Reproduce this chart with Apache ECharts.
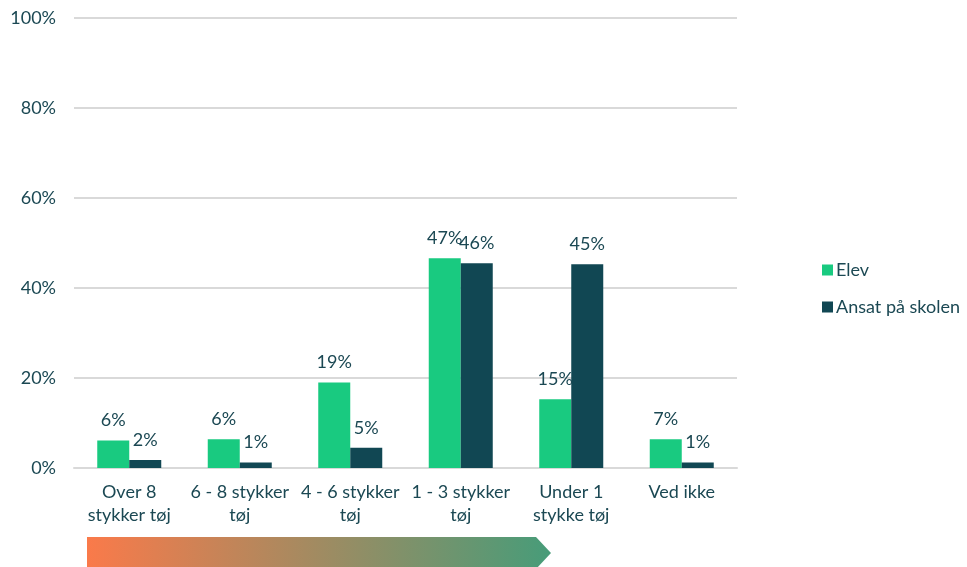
<!DOCTYPE html>
<html><head><meta charset="utf-8">
<script src="https://cdn.jsdelivr.net/npm/echarts@6/dist/echarts.min.js"></script>
<style>html,body{margin:0;padding:0;background:#fff}#c{width:967px;height:567px}</style>
</head><body><div id="c"></div>
<script>
var categories = ["Over 8\nstykker tøj", "6 - 8 stykker\ntøj", "4 - 6 stykker\ntøj", "1 - 3 stykker\ntøj", "Under 1\nstykke tøj", "Ved ikke"];
var elev = [6.1, 6.4, 19.0, 46.6, 15.3, 6.4];
var ansat = [1.8, 1.2, 4.5, 45.5, 45.3, 1.2];
var elevLabels = ["6%", "6%", "19%", "47%", "15%", "7%"];
var ansatLabels = ["2%", "1%", "5%", "46%", "45%", "1%"];
var yTicks = [0, 20, 40, 60, 80, 100];

var textColor = '#1b4853';
var font = 'Lato';
var fs = 18;
var chart = echarts.init(document.getElementById('c'));
function lbl(arr){return {show:true, position:'top', distance:11, color:textColor, fontFamily:font, fontSize:fs, formatter:function(p){return arr[p.dataIndex];}};}
chart.setOption({
  animation:false,
  grid:{left:74, right:230, top:18, bottom:99, containLabel:false},
  legend:{orient:'vertical', left:817, top:256, itemWidth:11, itemHeight:11, itemGap:19, icon:'rect',
    textStyle:{color:textColor, fontFamily:font, fontSize:fs, padding:[0,0,0,-2]}, data:['Elev','Ansat på skolen']},
  xAxis:{type:'category', data:categories,
    axisLine:{lineStyle:{color:'#d9d9d9', width:2}}, axisTick:{show:false},
    axisLabel:{color:textColor, fontFamily:font, fontSize:fs, lineHeight:23, margin:13, interval:0}},
  yAxis:{type:'value', min:0, max:100, interval:20,
    axisLabel:{color:textColor, fontFamily:font, fontSize:fs, margin:18, formatter:function(v){return v+'%';}},
    splitLine:{lineStyle:{color:'#d9d9d9', width:2}}, axisLine:{show:false}},
  series:[
    {name:'Elev', type:'bar', data:elev, barWidth:32, barGap:'0%', itemStyle:{color:'#19ca80'}, label:lbl(elevLabels)},
    {name:'Ansat på skolen', type:'bar', data:ansat, barWidth:32, itemStyle:{color:'#114753'}, label:lbl(ansatLabels)}
  ],
  graphic:[{type:'polygon', shape:{points:[[87,537],[536,537],[551,553],[536,569],[87,569]]},
    style:{fill:new echarts.graphic.LinearGradient(0,0,1,0,[{offset:0,color:'#fa7a4a'},{offset:1,color:'#479c79'}])}}]
});
</script></body></html>
